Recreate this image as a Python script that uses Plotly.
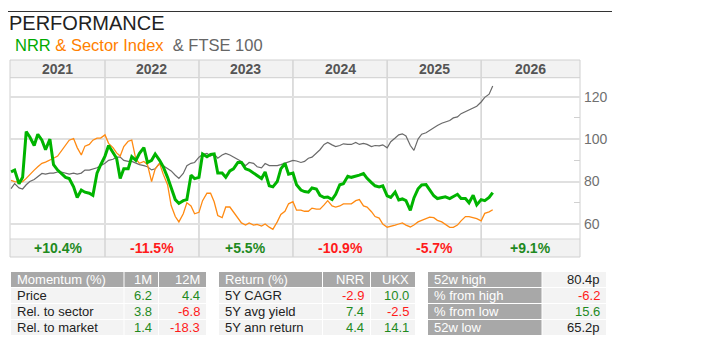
import plotly.graph_objects as go
import pandas as pd

# ---------------- data ----------------
dates = pd.date_range("2021-01-01", periods=124, freq="SMS")

nrr = [84.6, 85.4, 79.0, 82.0, 103.5, 101.0, 97.0, 102.3, 99.5, 95.0,
       100.0, 88.0, 85.4, 84.0, 82.0, 81.4, 77.5, 72.5, 76.0, 75.0,
       74.5, 73.5, 84.0, 87.8, 92.0, 97.0, 93.5, 91.0, 81.4, 86.0,
       86.0, 91.7, 90.0, 93.3, 96.0, 89.0, 90.0, 93.0, 90.0, 87.0,
       82.0, 77.5, 71.5, 69.7, 71.0, 71.5, 83.0, 81.4, 82.0, 93.0,
       91.7, 92.8, 93.0, 84.0, 84.0, 82.0, 85.0, 86.0, 89.0, 89.0,
       86.0, 85.4, 84.0, 82.5, 81.4, 84.5, 78.0, 77.5, 80.0, 86.0,
       88.6, 83.5, 84.0, 78.5, 76.0, 75.3, 75.0, 77.0, 76.5, 73.5,
       72.5, 72.7, 71.5, 74.0, 78.5, 79.0, 82.5, 82.0, 82.5, 83.0,
       83.8, 81.5, 79.5, 78.0, 77.5, 78.0, 73.3, 72.5, 75.0, 71.3,
       71.8, 71.0, 66.4, 72.3, 76.6, 78.4, 78.6, 76.3, 73.3, 72.0,
       72.5, 72.8, 72.0, 73.0, 74.0, 72.0, 72.0, 70.0, 73.5, 69.0,
       71.5, 71.0, 72.5, 74.8]

sector = [80.6, 80.0, 79.7, 80.0, 81.5, 83.5, 85.4, 87.0, 88.6, 89.2,
          90.0, 91.0, 92.0, 94.5, 97.0, 99.5, 100.3, 96.0, 92.5, 96.7,
          97.5, 99.5, 100.5, 100.5, 102.0, 98.0, 96.0, 93.5, 92.0, 96.5,
          99.0, 99.5, 90.5, 88.6, 89.5, 88.0, 80.0, 86.0, 88.6, 83.5,
          78.5, 68.7, 63.5, 61.0, 64.8, 70.0, 68.5, 64.8, 65.5, 71.0,
          74.5, 74.5, 70.5, 64.0, 63.0, 68.0, 68.0, 65.5, 62.5, 60.5,
          59.5, 60.5, 59.5, 59.8, 59.0, 60.0, 58.5, 57.5, 61.0, 64.5,
          66.0, 69.5, 70.5, 66.5, 66.5, 66.0, 66.0, 67.5, 67.0, 67.0,
          69.0, 71.0, 68.5, 68.0, 68.5, 69.5, 69.5, 69.5, 71.0, 71.5,
          68.5, 68.0, 65.8, 63.5, 62.8, 60.0, 58.5, 58.8, 59.5, 60.0,
          60.5, 59.5, 58.6, 59.5, 61.0, 61.7, 62.5, 63.2, 63.0, 61.7,
          61.0, 60.0, 58.4, 58.4, 59.5, 61.5, 63.5, 63.5, 63.0, 62.5,
          61.5, 65.0, 65.7, 66.7]

ftse = [76.7, 79.0, 77.0, 76.5, 78.5, 80.0, 81.0, 82.5, 83.8, 83.5,
        84.0, 84.0, 84.5, 84.5, 84.0, 83.5, 84.0, 83.5, 84.0, 85.4,
        85.4, 86.0, 86.5, 87.5, 88.6, 90.0, 90.5, 91.5, 91.5, 90.0,
        89.5, 89.5, 88.5, 88.0, 87.5, 87.0, 85.5, 86.0, 88.6, 87.5,
        86.5, 85.0, 83.0, 81.5, 83.8, 87.5, 88.6, 89.0, 91.5, 92.7,
        93.3, 92.0, 93.0, 91.0, 92.5, 93.3, 92.5, 91.5, 90.2, 89.5,
        87.5, 89.0, 88.6, 87.0, 86.5, 88.5, 87.5, 87.5, 87.5, 88.0,
        88.6, 89.0, 90.0, 89.7, 89.0, 89.5, 91.0, 91.5, 93.3, 95.0,
        97.5, 98.4, 97.3, 96.5, 97.0, 97.8, 97.5, 97.5, 98.4, 97.5,
        98.0, 97.5, 96.5, 97.0, 96.8, 97.3, 95.9, 98.8, 100.5, 102.0,
        102.5, 101.5, 97.0, 94.7, 100.0, 102.3, 103.0, 104.2, 105.5, 106.4,
        107.5, 108.2, 108.8, 110.0, 110.5, 112.0, 113.0, 113.8, 114.5, 115.5,
        117.5, 119.7, 121.2, 125.0]

years = [2021, 2022, 2023, 2024, 2025, 2026]
year_returns = [10.4, -11.5, 5.5, -10.9, -5.7, 9.1]
y_ticks = [60, 80, 100, 120]

mom_header = ["Momentum (%)", "1M", "12M"]
mom_labels = ["Price", "Rel. to sector", "Rel. to market"]
mom_1m = [6.2, 3.8, 1.4]
mom_12m = [4.4, -6.8, -18.3]

ret_header = ["Return (%)", "NRR", "UKX"]
ret_labels = ["5Y CAGR", "5Y avg yield", "5Y ann return"]
ret_nrr = [-2.9, 7.4, 4.4]
ret_ukx = [10.0, -2.5, 14.1]

w52_labels = ["52w high", "% from high", "% from low", "52w low"]
w52_values = ["80.4p", "-6.2", "15.6", "65.2p"]

# ---------------- style / geometry ----------------
W, H = 721, 356
OFF = 8  # page body margin offset of the rendered figure
def PX(x): return (x - OFF) / W
def PY(y): return 1 - (y - OFF) / H

FONT = "Liberation Sans, Arial, sans-serif"
C_GREEN_LINE = "#00b400"
C_ORANGE = "#ff8a12"
C_GRAY_LINE = "#6a6a6a"
C_POS = "#1f8a1f"
C_NEG = "#ff1a1a"
C_TXT = "#222222"
C_HDR = "#a8a8a8"
C_CELL = "#f3f3f3"
C_GRID = "#e0e0e0"
C_SEP = "#d6d6d6"

X0 = pd.Timestamp("2020-12-28")
X1 = pd.Timestamp("2027-01-20")
PLOT_L, PLOT_R = 10, 580
HDR_T, HDR_B = 60, 77.7
RET_T, RET_B = 239, 257
Y_MIN, Y_MAX = 52.93, 128.95

def vcol(v):
    return C_POS if v > 0 else C_NEG

fig = go.Figure()
fig.add_trace(go.Scatter(x=dates, y=ftse, mode="lines", line=dict(color=C_GRAY_LINE, width=1.2),
                         hoverinfo="skip", showlegend=False))
fig.add_trace(go.Scatter(x=dates, y=sector, mode="lines", line=dict(color=C_ORANGE, width=1.3),
                         hoverinfo="skip", showlegend=False))
fig.add_trace(go.Scatter(x=dates, y=nrr, mode="lines", line=dict(color=C_GREEN_LINE, width=3),
                         hoverinfo="skip", showlegend=False))

shapes = []
anns = []

def text(x, y, s, color, size=13, anchor="left", bold=False, xref="paper"):
    anns.append(dict(xref=xref, yref="paper", x=(PX(x) if xref == "paper" else x), y=PY(y),
                     text=(f"<b>{s}</b>" if bold else s), showarrow=False,
                     xanchor=anchor, yanchor="middle", borderpad=0, borderwidth=0,
                     font=dict(family=FONT, size=size, color=color)))

def rect(x0, y0, x1, y1, fill, layer="above", line=None):
    shapes.append(dict(type="rect", xref="paper", yref="paper", x0=PX(x0), x1=PX(x1),
                       y0=PY(y1), y1=PY(y0), fillcolor=fill, layer=layer,
                       line=(line if line else dict(width=0))))

def hline(x0, x1, y, color, width=1, layer="above"):
    shapes.append(dict(type="line", xref="paper", yref="paper", x0=PX(x0), x1=PX(x1),
                       y0=PY(y), y1=PY(y), line=dict(color=color, width=width), layer=layer))

# top rule + titles
hline(8, 612, 11.5, "#333333", 1)
text(8.5, 22.5, "PERFORMANCE", C_TXT, size=20)
text(15, 45, f"<span style='color:#00aa00'>NRR</span>"
             f"<span style='color:#ff8000'> &amp; Sector Index</span>"
             f"<span style='color:#666666'>&nbsp;&nbsp;&amp; FTSE 100</span>",
     C_TXT, size=16.5)

# header & returns rows
rect(PLOT_L, HDR_T, PLOT_R, HDR_B, "#f2f2f2", layer="below")
rect(PLOT_L, RET_T, PLOT_R, RET_B, "#f2f2f2", layer="below")
hline(PLOT_L, PLOT_R, HDR_B, C_SEP, 1.2, layer="below")
hline(PLOT_L, PLOT_R, RET_T, C_SEP, 1.2, layer="below")
rect(PLOT_L, HDR_T, PLOT_R, RET_B, "rgba(0,0,0,0)", layer="below",
     line=dict(color="#d0d0d0", width=1))

bounds = [X0] + [pd.Timestamp(f"{y}-01-01") for y in years[1:]] + [X1]
for y in years[1:]:
    shapes.append(dict(type="line", xref="x", yref="paper", x0=f"{y}-01-01", x1=f"{y}-01-01",
                       y0=PY(RET_B), y1=PY(HDR_T), line=dict(color=C_SEP, width=1.6), layer="below"))
for i, y in enumerate(years):
    mid = bounds[i] + (bounds[i + 1] - bounds[i]) / 2
    mid_s = mid.strftime("%Y-%m-%d %H:%M")
    text(mid_s, (HDR_T + HDR_B) / 2, str(y), "#555555", size=14, anchor="center", bold=True, xref="x")
    r = year_returns[i]
    text(mid_s, (RET_T + RET_B) / 2, f"{r:+.1f}%", vcol(r), size=14, anchor="center", bold=True, xref="x")

# tables
TROWS = [(272, 287), (288, 303), (304, 319), (320, 335)]
PAD = 6

def table(cols, header, labels, colvals):
    for j, (c0, c1) in enumerate(cols):
        y0, y1 = TROWS[0]
        rect(c0, y0, c1, y1, C_HDR)
        if j == 0:
            text(c0 + PAD, (y0 + y1) / 2, header[j], "white")
        else:
            text(c1 - PAD, (y0 + y1) / 2, header[j], "white", anchor="right")
    for k, lab in enumerate(labels):
        y0, y1 = TROWS[k + 1]
        for j, (c0, c1) in enumerate(cols):
            rect(c0, y0, c1, y1, C_CELL)
            if j == 0:
                text(c0 + PAD, (y0 + y1) / 2, lab, C_TXT)
            else:
                v = colvals[j - 1][k]
                text(c1 - PAD, (y0 + y1) / 2, f"{v:.1f}", vcol(v), anchor="right")

table([(11, 123.5), (124.5, 158), (159, 206)], mom_header, mom_labels, [mom_1m, mom_12m])
table([(219, 322), (323, 370), (371, 415)], ret_header, ret_labels, [ret_nrr, ret_ukx])

for k, (lab, val) in enumerate(zip(w52_labels, w52_values)):
    y0, y1 = TROWS[k]
    rect(428, y0, 541.5, y1, C_HDR)
    rect(542.5, y0, 606, y1, C_CELL)
    text(428 + PAD, (y0 + y1) / 2, lab, "white")
    if val.endswith("p"):
        col = C_TXT
    else:
        col = vcol(float(val))
    text(606 - PAD, (y0 + y1) / 2, val, col, anchor="right")

fig.update_layout(
    width=W, height=H,
    margin=dict(l=0, r=0, t=0, b=0),
    paper_bgcolor="white", plot_bgcolor="rgba(0,0,0,0)",
    shapes=shapes, annotations=anns, showlegend=False,
    xaxis=dict(domain=[PX(PLOT_L), PX(PLOT_R)], range=[X0, X1], type="date",
               showgrid=False, showticklabels=False, zeroline=False, showline=False, ticks=""),
    yaxis=dict(domain=[PY(RET_T), PY(HDR_B)], range=[Y_MIN, Y_MAX], side="right",
               tickvals=y_ticks, showgrid=True, gridcolor=C_GRID, gridwidth=1.6,
               zeroline=False, showline=False, ticks="", ticklabelstandoff=3,
               tickfont=dict(family=FONT, size=14, color="#707070"),
               minor=dict(tickvals=[70, 90, 110], ticks="inside", ticklen=6,
                          tickcolor="#d0d0d0", tickwidth=1.2, showgrid=False)),
)

fig.write_html("out.html")
